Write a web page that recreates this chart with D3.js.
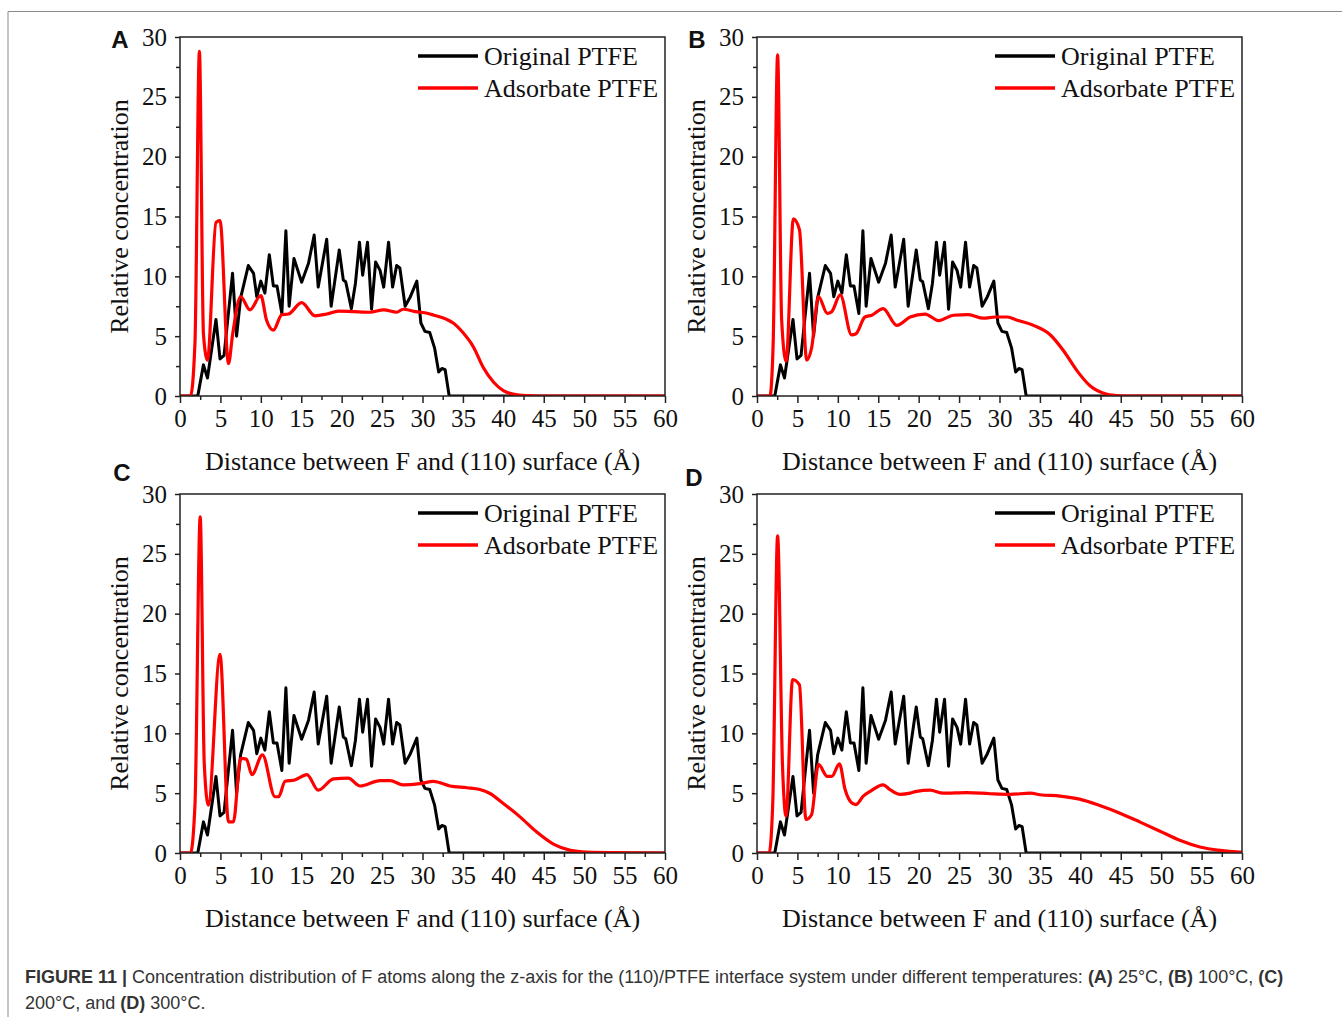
<!DOCTYPE html>
<html>
<head>
<meta charset="utf-8">
<script src="https://cdn.jsdelivr.net/npm/d3@7"></script>
<style>
  body { margin: 0; background: #fff; }
  svg { display: block; }
</style>
</head>
<body>
<svg id="chart" width="1342" height="1017"></svg>
<script>
// Original PTFE profile (same in all four panels): [distance Å, concentration]
const originalPTFE = [
  [0, 0], [2.2, 0], [2.9, 2.6], [3.4, 1.5], [4.45, 6.4], [4.95, 3.1], [5.45, 3.4],
  [6.5, 10.25], [7.0, 5.0], [7.5, 8.2], [8.45, 10.9], [9.1, 10.25], [9.5, 8.3],
  [10.0, 9.6], [10.5, 8.6], [11.05, 11.8], [11.55, 9.2], [12.0, 9.2], [12.6, 6.9],
  [13.1, 13.8], [13.5, 7.5], [14.1, 11.5], [15.05, 9.5], [15.9, 11.1], [16.6, 13.45],
  [17.1, 9.1], [18.15, 13.1], [18.7, 7.5], [19.7, 12.2], [20.2, 9.7], [20.5, 9.55],
  [21.2, 7.3], [21.7, 9.4], [22.2, 12.85], [22.6, 10.1], [23.2, 12.85], [23.7, 7.25],
  [24.2, 11.2], [24.75, 10.5], [25.2, 9.1], [25.8, 12.85], [26.3, 9.1], [26.8, 10.9],
  [27.2, 10.7], [27.85, 7.5], [28.5, 8.3], [29.3, 9.6], [29.8, 6.1], [30.3, 5.4],
  [30.9, 5.3], [31.5, 4.0], [32.0, 2.0], [32.4, 2.3], [32.8, 2.2], [33.3, 0], [60, 0]
];

// Adsorbate PTFE profiles per temperature
const adsorbate25 = [
  [0, 0], [1.3, 0], [1.85, 4.4], [2.4, 28.8], [2.9, 5.2], [3.4, 3.0], [4.45, 14.5],
  [4.95, 14.65], [6.0, 2.7], [6.5, 5.1], [7.5, 8.3], [8.65, 7.2], [10.0, 8.4],
  [10.7, 6.35], [11.55, 5.5], [12.6, 6.8], [13.4, 6.85], [15.05, 7.8], [16.7, 6.7],
  [18.15, 6.85], [19.6, 7.1], [21.5, 7.05], [23.5, 7.0], [25.2, 7.2], [26.8, 7.0],
  [27.6, 7.25], [29.1, 7.05], [30.7, 6.9], [31.35, 6.77], [33.0, 6.4], [33.8, 6.1],
  [35.0, 5.3], [36.3, 4.1], [37.5, 2.4], [38.8, 1.15], [40.0, 0.45], [41.7, 0.1],
  [43.5, 0.02], [45, 0], [60, 0]
];
const adsorbate100 = [
  [0, 0], [1.6, 0], [2.0, 4.4], [2.55, 28.5], [3.05, 6.35], [3.6, 2.9], [4.5, 14.8],
  [5.25, 13.9], [6.15, 3.0], [6.75, 4.0], [7.6, 8.3], [8.7, 6.9], [9.25, 7.05],
  [10.3, 8.45], [11.7, 5.1], [12.25, 5.2], [13.35, 6.6], [14.2, 6.75], [15.6, 7.3],
  [17.3, 5.9], [18.95, 6.6], [20.8, 6.85], [22.45, 6.3], [24.3, 6.75], [26.15, 6.8],
  [28.0, 6.5], [29.5, 6.6], [31.0, 6.6], [32.1, 6.35], [34.2, 5.9], [36.3, 5.1],
  [37.9, 3.8], [39.6, 2.1], [41.2, 0.85], [43.3, 0.15], [45, 0.02], [46, 0], [60, 0]
];
const adsorbate200 = [
  [0, 0], [1.3, 0], [1.85, 4.0], [2.5, 28.1], [3.0, 7.5], [3.5, 4.0], [4.95, 16.6],
  [6.0, 2.6], [6.6, 2.6], [7.5, 7.9], [8.2, 7.85], [8.9, 6.55], [10.2, 8.2],
  [11.75, 4.7], [12.2, 4.7], [13.0, 6.0], [14.2, 6.1], [15.7, 6.55], [17.1, 5.25],
  [19.0, 6.2], [20.8, 6.25], [22.3, 5.6], [24.75, 6.05], [26.0, 6.05], [27.6, 5.7],
  [29.7, 5.8], [31.35, 5.98], [33.4, 5.6], [35.5, 5.45], [37.1, 5.3], [38.35, 4.97],
  [40.0, 4.14], [42.1, 3.0], [44.1, 1.77], [46.2, 0.74], [48.3, 0.22], [50.3, 0.08],
  [55, 0.02], [60, 0]
];
const adsorbate300 = [
  [0, 0], [1.5, 0], [1.95, 4.2], [2.55, 26.5], [3.15, 7.4], [3.6, 3.1], [4.4, 14.5],
  [5.25, 14.05], [6.05, 2.8], [6.75, 3.2], [7.6, 7.4], [8.7, 6.4], [9.25, 6.4],
  [10.2, 7.45], [10.9, 5.3], [11.7, 4.2], [12.25, 4.05], [13.15, 4.75], [14.0, 5.15],
  [15.6, 5.7], [16.45, 5.3], [17.7, 4.9], [18.95, 5.0], [19.75, 5.15], [21.4, 5.25],
  [23.05, 5.0], [25.95, 5.05], [28.85, 4.95], [31.3, 4.9], [33.8, 5.0], [35.0, 4.87],
  [37.5, 4.76], [39.9, 4.5], [42.4, 3.97], [44.9, 3.33], [47.4, 2.58], [49.8, 1.84],
  [52.3, 1.06], [54.8, 0.5], [57.3, 0.22], [59.7, 0.08], [60, 0.07]
];

const panelLetters = ['A', 'B', 'C', 'D'];
const legendLabels = ['Original PTFE', 'Adsorbate PTFE'];
const xTicks = [0, 5, 10, 15, 20, 25, 30, 35, 40, 45, 50, 55, 60];
const yTicks = [0, 5, 10, 15, 20, 25, 30];

const SERIF = '"Liberation Serif", "Times New Roman", serif';
const SANS = '"Liberation Sans", Arial, sans-serif';
const BLACK = '#000000';
const RED = '#ff0000';
const AXIS_COLOR = '#222';

const PLOT_W = 485;
const PLOT_H = 359;

const panels = [
  { left: 180, top: 37, data: adsorbate25, letterX: 120, letterY: 48 },
  { left: 757, top: 37, data: adsorbate100, letterX: 697, letterY: 48 },
  { left: 180, top: 494, data: adsorbate200, letterX: 122, letterY: 481 },
  { left: 757, top: 494, data: adsorbate300, letterX: 694, letterY: 486 }
];

const svg = d3.select('#chart');

svg.append('rect')
  .attr('width', 1342)
  .attr('height', 1017)
  .attr('fill', '#fff');

// figure frame (top and left only)
svg.append('path')
  .attr('d', 'M8,1017 L8,11.5 L1342,11.5')
  .attr('fill', 'none')
  .attr('stroke', '#8a8a8a')
  .attr('stroke-width', 1);

const x = d3.scaleLinear().domain([0, 60]).range([0, PLOT_W]);
const y = d3.scaleLinear().domain([0, 30]).range([PLOT_H, 0]);

const blackLine = d3.line()
  .x(d => x(d[0]))
  .y(d => y(d[1]))
  .curve(d3.curveLinear);

const redLine = d3.line()
  .x(d => x(d[0]))
  .y(d => y(d[1]))
  .curve(d3.curveMonotoneX);

function drawPanel(p, i) {
  const g = svg.append('g')
    .attr('transform', `translate(${p.left},${p.top})`);

  const clipId = 'clip' + i;
  g.append('clipPath').attr('id', clipId)
    .append('rect')
    .attr('x', -2).attr('y', -2)
    .attr('width', PLOT_W + 4).attr('height', PLOT_H + 2);

  // minor ticks
  g.append('g')
    .attr('transform', `translate(0,${PLOT_H})`)
    .call(d3.axisBottom(x).tickValues(d3.range(2.5, 60, 5)).tickSize(4).tickFormat(''))
    .call(a => a.select('.domain').remove());
  g.append('g')
    .call(d3.axisLeft(y).tickValues(d3.range(2.5, 30, 5)).tickSize(4).tickFormat(''))
    .call(a => a.select('.domain').remove());

  // major axes
  const xAxis = g.append('g')
    .attr('transform', `translate(0,${PLOT_H})`)
    .call(d3.axisBottom(x).tickValues(xTicks).tickSize(7).tickPadding(6));
  const yAxis = g.append('g')
    .call(d3.axisLeft(y).tickValues(yTicks).tickSize(5).tickPadding(8));

  g.selectAll('.tick line')
    .attr('stroke', AXIS_COLOR)
    .attr('stroke-width', 1.5);
  g.selectAll('.domain').remove();

  xAxis.selectAll('text')
    .style('font-family', SERIF)
    .style('font-size', '25px')
    .attr('fill', '#111');
  yAxis.selectAll('text')
    .style('font-family', SERIF)
    .style('font-size', '25px')
    .attr('fill', '#111');

  // data lines
  const lines = g.append('g').attr('clip-path', `url(#${clipId})`);
  lines.append('path')
    .datum(originalPTFE)
    .attr('d', blackLine)
    .attr('fill', 'none')
    .attr('stroke', BLACK)
    .attr('stroke-width', 3)
    .attr('stroke-linejoin', 'round');
  lines.append('path')
    .datum(p.data)
    .attr('d', redLine)
    .attr('fill', 'none')
    .attr('stroke', RED)
    .attr('stroke-width', 3.2)
    .attr('stroke-linejoin', 'round');

  // frame
  g.append('rect')
    .attr('width', PLOT_W)
    .attr('height', PLOT_H)
    .attr('fill', 'none')
    .attr('stroke', AXIS_COLOR)
    .attr('stroke-width', 1.5);

  // legend
  [BLACK, RED].forEach((c, k) => {
    const ly = 19 + k * 32;
    g.append('line')
      .attr('x1', 238).attr('x2', 298)
      .attr('y1', ly).attr('y2', ly)
      .attr('stroke', c)
      .attr('stroke-width', 3.5);
    g.append('text')
      .attr('x', 304)
      .attr('y', ly + 9)
      .style('font-family', SERIF)
      .style('font-size', '26px')
      .attr('fill', '#111')
      .text(legendLabels[k]);
  });

  // axis titles
  g.append('text')
    .attr('x', PLOT_W / 2)
    .attr('y', PLOT_H + 74)
    .attr('text-anchor', 'middle')
    .style('font-family', SERIF)
    .style('font-size', '26px')
    .attr('fill', '#111')
    .text('Distance between F and (110) surface (Å)');

  g.append('text')
    .attr('transform', `translate(-52,${PLOT_H / 2}) rotate(-90)`)
    .attr('text-anchor', 'middle')
    .style('font-family', SERIF)
    .style('font-size', '26px')
    .attr('fill', '#111')
    .text('Relative concentration');

  // panel letter
  svg.append('text')
    .attr('x', p.letterX)
    .attr('y', p.letterY)
    .attr('text-anchor', 'middle')
    .style('font-family', SANS)
    .style('font-size', '24px')
    .style('font-weight', 'bold')
    .attr('fill', '#111')
    .text(panelLetters[i]);
}

panels.forEach(drawPanel);

// caption
const cap1 = svg.append('text')
  .attr('x', 25)
  .attr('y', 983)
  .style('font-family', SANS)
  .style('font-size', '18px')
  .attr('fill', '#333');
cap1.append('tspan').style('font-weight', 'bold').text('FIGURE 11 | ');
cap1.append('tspan').text('Concentration distribution of F atoms along the z-axis for the (110)/PTFE interface system under different temperatures: ');
cap1.append('tspan').style('font-weight', 'bold').text('(A)');
cap1.append('tspan').text(' 25°C, ');
cap1.append('tspan').style('font-weight', 'bold').text('(B)');
cap1.append('tspan').text(' 100°C, ');
cap1.append('tspan').style('font-weight', 'bold').text('(C)');

const cap2 = svg.append('text')
  .attr('x', 25)
  .attr('y', 1009)
  .style('font-family', SANS)
  .style('font-size', '18px')
  .attr('fill', '#333');
cap2.append('tspan').text('200°C, and ');
cap2.append('tspan').style('font-weight', 'bold').text('(D)');
cap2.append('tspan').text(' 300°C.');
</script>
</body>
</html>
